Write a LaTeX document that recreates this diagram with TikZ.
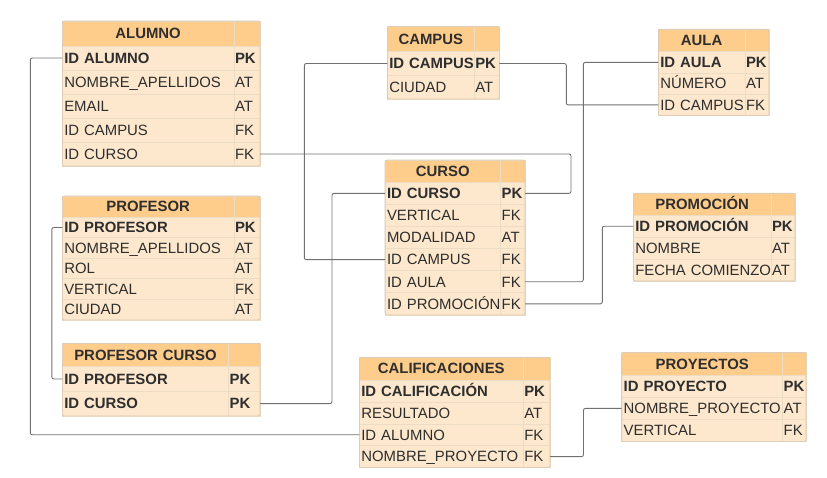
\documentclass[tikz,border=0pt]{standalone}
\usepackage{fontspec}
\setmainfont{Liberation Sans}
\usetikzlibrary{positioning}
\definecolor{hdcol}{HTML}{FFCD8B}
\definecolor{rowcol}{HTML}{FDE8CD}
\definecolor{sepcol}{HTML}{EDDCC4}
\definecolor{linkcol}{HTML}{707070}
\definecolor{txtcol}{HTML}{2E2E2E}

\begin{document}
\begin{tikzpicture}[x=1pt,y=-1pt,
  cell/.style={draw=sepcol,line width=0.6pt,inner sep=0pt,inner xsep=2pt,outer sep=0pt,text height=10.6pt,text depth=0pt,text=txtcol,font=\fontsize{14.9}{17}\selectfont},
  hd/.style={cell,fill=hdcol,align=center,font=\fontsize{14.9}{17}\selectfont\bfseries},
  rw/.style={cell,fill=rowcol,align=left},
  ky/.style={inner xsep=1pt},
  frame/.style={draw=sepcol!90!black,line width=0.6pt,rounded corners=2pt},
  link/.style={draw=linkcol,line width=0.9pt,rounded corners=2pt}] %
  \useasboundingbox (0,0) rectangle (827,478);

  % alumno
  \begin{scope}[minimum height=24pt]
    \node[hd,anchor=north west,text width=167.7pt,minimum height=25pt] (alumno-0) at (62.3,21) {ALUMNO};
    \node[hd,ky,text width=24pt,minimum height=25pt,right=0pt of alumno-0] (alumno-k0) {};
    \foreach \nm/\kk [count=\i, remember=\i as \j (initially 0)] in {\textbf{ID ALUMNO}/\textbf{PK},NOMBRE\_APELLIDOS/AT,EMAIL/AT,ID CAMPUS/FK,ID CURSO/FK} {
      \node[rw,text width=167.7pt,below=0pt of alumno-\j] (alumno-\i) {\mbox{\nm}};
      \node[rw,ky,text width=24pt,right=0pt of alumno-\i] (alumno-k\i) {\mbox{\kk}};
    }
    \draw[frame] (alumno-0.north west) rectangle (alumno-k5.south east);
  \end{scope}

  % campus
  \begin{scope}[minimum height=23.6pt]
    \node[hd,anchor=north west,text width=83pt,minimum height=25pt] (campus-0) at (387.3,26.7) {CAMPUS};
    \node[hd,ky,text width=23pt,minimum height=25pt,right=0pt of campus-0] (campus-k0) {};
    \foreach \nm/\kk [count=\i, remember=\i as \j (initially 0)] in {\textbf{ID CAMPUS}/\textbf{PK},CIUDAD/AT} {
      \node[rw,text width=83pt,below=0pt of campus-\j] (campus-\i) {\mbox{\nm}};
      \node[rw,ky,text width=23pt,right=0pt of campus-\i] (campus-k\i) {\mbox{\kk}};
    }
    \draw[frame] (campus-0.north west) rectangle (campus-k2.south east);
  \end{scope}

  % aula
  \begin{scope}[minimum height=21.3pt]
    \node[hd,anchor=north west,text width=82.7pt,minimum height=22.4pt] (aula-0) at (658.3,29.3) {AULA};
    \node[hd,ky,text width=22pt,minimum height=22.4pt,right=0pt of aula-0] (aula-k0) {};
    \foreach \nm/\kk [count=\i, remember=\i as \j (initially 0)] in {\textbf{ID AULA}/\textbf{PK},NÚMERO/AT,ID CAMPUS/FK} {
      \node[rw,text width=82.7pt,below=0pt of aula-\j] (aula-\i) {\mbox{\nm}};
      \node[rw,ky,text width=22pt,right=0pt of aula-\i] (aula-k\i) {\mbox{\kk}};
    }
    \draw[frame] (aula-0.north west) rectangle (aula-k3.south east);
  \end{scope}

  % profesor
  \begin{scope}[minimum height=20.5pt]
    \node[hd,anchor=north west,text width=167.7pt,minimum height=21.3pt] (prof-0) at (62.3,196) {PROFESOR};
    \node[hd,ky,text width=24pt,minimum height=21.3pt,right=0pt of prof-0] (prof-k0) {};
    \foreach \nm/\kk [count=\i, remember=\i as \j (initially 0)] in {\textbf{ID PROFESOR}/\textbf{PK},NOMBRE\_APELLIDOS/AT,ROL/AT,VERTICAL/FK,CIUDAD/AT} {
      \node[rw,text width=167.7pt,below=0pt of prof-\j] (prof-\i) {\mbox{\nm}};
      \node[rw,ky,text width=24pt,right=0pt of prof-\i] (prof-k\i) {\mbox{\kk}};
    }
    \draw[frame] (prof-0.north west) rectangle (prof-k5.south east);
  \end{scope}

  % profesor curso
  \begin{scope}[minimum height=24.6pt]
    \node[hd,anchor=north west,text width=162.4pt,minimum height=23.4pt] (pc-0) at (62.3,343.3) {PROFESOR CURSO};
    \node[hd,ky,text width=29.3pt,minimum height=23.4pt,right=0pt of pc-0] (pc-k0) {};
    \foreach \nm/\kk [count=\i, remember=\i as \j (initially 0)] in {\textbf{ID PROFESOR}/\textbf{PK},\textbf{ID CURSO}/\textbf{PK}} {
      \node[rw,text width=162.4pt,below=0pt of pc-\j] (pc-\i) {\mbox{\nm}};
      \node[rw,ky,text width=29.3pt,right=0pt of pc-\i] (pc-k\i) {\mbox{\kk}};
    }
    \draw[frame] (pc-0.north west) rectangle (pc-k2.south east);
  \end{scope}

  % curso
  \begin{scope}[minimum height=22.1pt]
    \node[hd,anchor=north west,text width=111.7pt,minimum height=22.3pt] (curso-0) at (385,160) {CURSO};
    \node[hd,ky,text width=22.3pt,minimum height=22.3pt,right=0pt of curso-0] (curso-k0) {};
    \foreach \nm/\kk [count=\i, remember=\i as \j (initially 0)] in {\textbf{ID CURSO}/\textbf{PK},VERTICAL/FK,MODALIDAD/AT,ID CAMPUS/FK,ID AULA/FK,ID PROMOCIÓN/FK} {
      \node[rw,text width=111.7pt,below=0pt of curso-\j] (curso-\i) {\mbox{\nm}};
      \node[rw,ky,text width=22.3pt,right=0pt of curso-\i] (curso-k\i) {\mbox{\kk}};
    }
    \draw[frame] (curso-0.north west) rectangle (curso-k6.south east);
  \end{scope}

  % promocion
  \begin{scope}[minimum height=21.9pt]
    \node[hd,anchor=north west,text width=133.7pt,minimum height=22pt] (promo-0) at (633.3,193.3) {PROMOCIÓN};
    \node[hd,ky,text width=22pt,minimum height=22pt,right=0pt of promo-0] (promo-k0) {};
    \foreach \nm/\kk [count=\i, remember=\i as \j (initially 0)] in {\textbf{ID PROMOCIÓN}/\textbf{PK},NOMBRE/AT,FECHA COMIENZO/AT} {
      \node[rw,text width=133.7pt,below=0pt of promo-\j] (promo-\i) {\mbox{\nm}};
      \node[rw,ky,text width=22pt,right=0pt of promo-\i] (promo-k\i) {\mbox{\kk}};
    }
    \draw[frame] (promo-0.north west) rectangle (promo-k3.south east);
  \end{scope}

  % calificaciones
  \begin{scope}[minimum height=21.9pt]
    \node[hd,anchor=north west,text width=160pt,minimum height=22.7pt] (calif-0) at (359.3,357.3) {CALIFICACIONES};
    \node[hd,ky,text width=24.7pt,minimum height=22.7pt,right=0pt of calif-0] (calif-k0) {};
    \foreach \nm/\kk [count=\i, remember=\i as \j (initially 0)] in {\textbf{ID CALIFICACIÓN}/\textbf{PK},RESULTADO/AT,ID ALUMNO/FK,NOMBRE\_PROYECTO/FK} {
      \node[rw,text width=160pt,below=0pt of calif-\j] (calif-\i) {\mbox{\nm}};
      \node[rw,ky,text width=24.7pt,right=0pt of calif-\i] (calif-k\i) {\mbox{\kk}};
    }
    \draw[frame] (calif-0.north west) rectangle (calif-k4.south east);
  \end{scope}

  % proyectos
  \begin{scope}[minimum height=22.2pt]
    \node[hd,anchor=north west,text width=157pt,minimum height=22.3pt] (proy-0) at (621.7,352.7) {PROYECTOS};
    \node[hd,ky,text width=21.3pt,minimum height=22.3pt,right=0pt of proy-0] (proy-k0) {};
    \foreach \nm/\kk [count=\i, remember=\i as \j (initially 0)] in {\textbf{ID PROYECTO}/\textbf{PK},NOMBRE\_PROYECTO/AT,VERTICAL/FK} {
      \node[rw,text width=157pt,below=0pt of proy-\j] (proy-\i) {\mbox{\nm}};
      \node[rw,ky,text width=21.3pt,right=0pt of proy-\i] (proy-k\i) {\mbox{\kk}};
    }
    \draw[frame] (proy-0.north west) rectangle (proy-k3.south east);
  \end{scope}

  % relations
  \draw[link] (alumno-1.west) -- ++(-32,0) |- (calif-3.west);
  \draw[link] (alumno-k5.east) -- ++(311,0) |- (curso-k1.east);
  \draw[link] (campus-1.west) -- ++(-83,0) |- (curso-4.west);
  \draw[link] (campus-k1.east) -- ++(67,0) |- (aula-3.west);
  \draw[link] (aula-1.west) -- ++(-75,0) |- (curso-k5.east);
  \draw[link] (promo-1.west) -- ++(-31,0) |- (curso-k6.east);
  \draw[link] (prof-1.west) -- ++(-10.5,0) |- (pc-1.west);
  \draw[link] (pc-k2.east) -- ++(72,0) |- (curso-1.west);
  \draw[link] (calif-k4.east) -- ++(33.5,0) |- (proy-2.west);
\end{tikzpicture}
\end{document}
